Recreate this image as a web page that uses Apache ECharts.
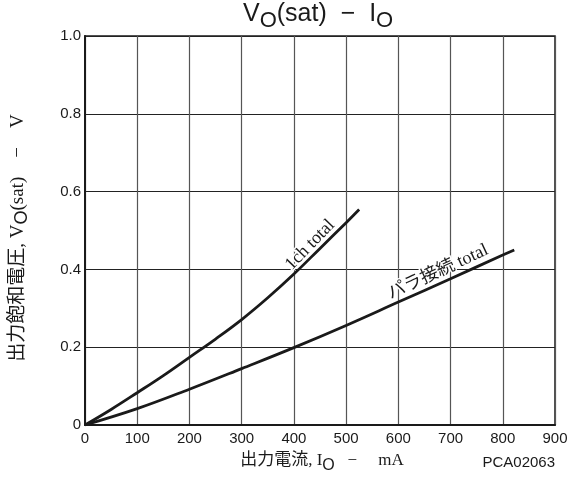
<!DOCTYPE html>
<html>
<head>
<meta charset="utf-8">
<script src="https://cdn.jsdelivr.net/npm/echarts@6/dist/echarts.min.js"></script>
<style>
  html, body { margin: 0; padding: 0; background: #fff; }
  #chart { width: 575px; height: 480px; }
</style>
</head>
<body>
<div id="chart"></div>
<script>
// Saturation voltage vs. output current
const currentOneCh = [0, 50, 100, 150, 200, 250, 300, 350, 400, 450, 500, 525];
const vsatOneCh    = [0, 0.040, 0.083, 0.127, 0.174, 0.221, 0.271, 0.327, 0.388, 0.454, 0.520, 0.554];

const currentParallel = [0, 100, 200, 300, 400, 500, 600, 700, 800, 822];
const vsatParallel    = [0, 0.042, 0.092, 0.145, 0.199, 0.256, 0.316, 0.376, 0.437, 0.450];

const xTicks = [0, 100, 200, 300, 400, 500, 600, 700, 800, 900];
const yTicks = [0, 0.2, 0.4, 0.6, 0.8, 1.0];

const serif = '"Liberation Serif", "Noto Sans CJK JP", serif';
const sans = '"Liberation Sans", Arial, sans-serif';
const ink = '#1a1a1a';

const pairs = (xs, ys) => xs.map((x, i) => [x, ys[i]]);

const chart = echarts.init(document.getElementById('chart'), null, { renderer: 'canvas' });

const option = {
  backgroundColor: '#fff',
  animation: false,
  title: {
    text: '{m|V}{s|O}{m|(sat)  −  I}{s|O}',
    left: 238,
    top: -3,
    textStyle: {
      fontWeight: 'normal',
      rich: {
        m: { fontFamily: sans, fontSize: 25, fontWeight: 'normal', color: ink, verticalAlign: 'bottom', lineHeight: 30, padding: [0, 0, 5, 0] },
        s: { fontFamily: sans, fontSize: 22, fontWeight: 'normal', color: ink, verticalAlign: 'bottom', lineHeight: 30 }
      }
    }
  },
  grid: { left: 85, right: 20, top: 36, bottom: 55, show: true, borderColor: ink, borderWidth: 1.5 },
  xAxis: {
    type: 'value',
    min: xTicks[0],
    max: xTicks[xTicks.length - 1],
    interval: 100,
    axisLine: { show: true, lineStyle: { color: ink, width: 2 } },
    axisTick: { show: false },
    splitLine: { show: true, lineStyle: { color: '#555', width: 1.2 } },
    axisLabel: { fontFamily: sans, fontSize: 15, color: ink, margin: 6 }
  },
  yAxis: {
    type: 'value',
    min: yTicks[0],
    max: yTicks[yTicks.length - 1],
    interval: 0.2,
    axisLine: { show: true, lineStyle: { color: ink, width: 2 } },
    axisTick: { show: false },
    splitLine: { show: true, lineStyle: { color: '#222', width: 1 } },
    axisLabel: {
      fontFamily: sans, fontSize: 15, color: ink, margin: 4,
      formatter: v => (v === 0 ? '0' : v.toFixed(1))
    }
  },
  series: [
    {
      name: '1ch total',
      type: 'line',
      data: pairs(currentOneCh, vsatOneCh),
      smooth: 0.4,
      showSymbol: false,
      lineStyle: { color: ink, width: 2.8 }
    },
    {
      name: 'パラ接続 total',
      type: 'line',
      data: pairs(currentParallel, vsatParallel),
      smooth: 0.4,
      showSymbol: false,
      lineStyle: { color: ink, width: 2.8 }
    }
  ]
};

chart.setOption(option);

// Curve captions anchored in data coordinates, plus the axis names
const p1 = chart.convertToPixel({ gridIndex: 0 }, [431, 0.463]);
const p2 = chart.convertToPixel({ gridIndex: 0 }, [676, 0.393]);

const nameRich = (cjkSize, subSize) => ({
  m: { fontFamily: serif, fontSize: cjkSize, fill: ink, verticalAlign: 'bottom', padding: [0, 0, 4, 0] },
  s: { fontFamily: sans, fontSize: subSize, fill: ink, verticalAlign: 'bottom' }
});

chart.setOption({
  graphic: [
    {
      type: 'text', x: p1[0], y: p1[1], rotation: 46 * Math.PI / 180,
      style: { text: '1ch total', fontFamily: serif, fontSize: 18, fill: ink, align: 'center', verticalAlign: 'middle',
               stroke: '#fff', lineWidth: 3 }
    },
    {
      type: 'text', x: p2[0], y: p2[1], rotation: 25 * Math.PI / 180,
      style: { text: 'パラ接続 total', fontFamily: serif, fontSize: 18, fill: ink, align: 'center', verticalAlign: 'middle',
               stroke: '#fff', lineWidth: 3 }
    },
    {
      type: 'text', x: 322, y: 463,
      style: {
        text: '{m|出力電流, I}{s|O}{m|   −     mA}',
        align: 'center', verticalAlign: 'middle',
        rich: nameRich(17, 16)
      }
    },
    {
      type: 'text', x: 555, y: 463,
      style: { text: 'PCA02063', fontFamily: sans, fontSize: 15, fill: ink, align: 'right', verticalAlign: 'middle' }
    },
    {
      type: 'text', x: 20, y: 238, rotation: Math.PI / 2,
      style: {
        text: '{m|出力飽和電圧, V}{s|O}{m|(sat)    −    V}',
        align: 'center', verticalAlign: 'middle',
        rich: nameRich(19, 18)
      }
    }
  ]
});
</script>
</body>
</html>
